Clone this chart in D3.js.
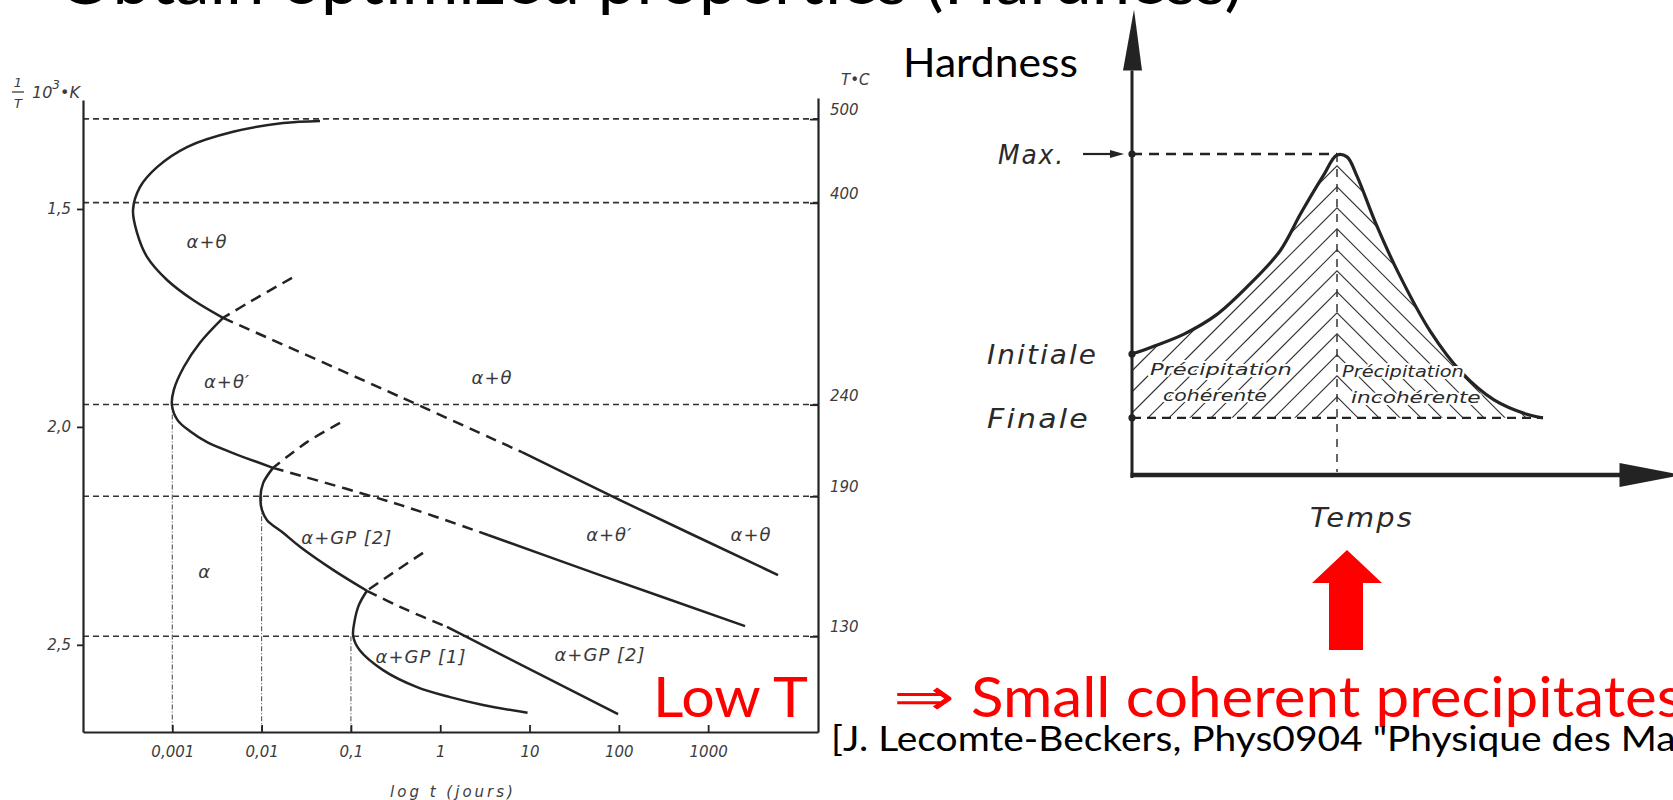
<!DOCTYPE html>
<html>
<head>
<meta charset="utf-8">
<script src="https://cdn.jsdelivr.net/npm/d3@7"></script>
<style>
  html, body { margin: 0; padding: 0; background: #fff; overflow: hidden; }
  svg { display: block; }
</style>
</head>
<body>
<svg id="slide" width="1673" height="800"></svg>
<script>
// ---------- TTT diagram (Al-Cu): time in days, 1/T in 10^-3 K^-1 ----------
const isoTemps = [500, 400, 240, 190, 130];              // isotherms, °C
const invTTicks = [1.5, 2.0, 2.5];
const timeTicks = [0.001, 0.01, 0.1, 1, 10, 100, 1000];
const timeTickLabels = ["0,001", "0,01", "0,1", "1", "10", "100", "1000"];
const noseTimes = [0.001, 0.01, 0.1];                    // dotted guides to the noses
const noseTemps = [240, 190, 130];

// α+θ boundary
const thetaUpper = [[0.0451,1.298],[0.0174,1.303],[0.00479,1.323],[0.00146,1.358],[0.000675,1.404],
  [0.000434,1.450],[0.000363,1.502],[0.000403,1.555],[0.000521,1.610],[0.000873,1.663],[0.00171,1.709],[0.0037,1.750]];
const thetaMid = [[0.0037,1.750],[0.355,1.931],[8.24,2.058]];
const thetaLow = [[8.24,2.058],[103,2.168],[6067,2.340]];
// α+θ' boundary
const thetaPrimeTop = [[0.0219,1.658],[0.00741,1.713],[0.0037,1.750]];
const thetaPrimeNose = [[0.0037,1.750],[0.00204,1.807],[0.00135,1.862],[0.00104,1.915],[0.00099,1.950],
  [0.00115,1.985],[0.00158,2.010],[0.00245,2.035],[0.00479,2.060],[0.0134,2.094]];
const thetaPrimeMid = [[0.0134,2.094],[0.355,2.179],[3.43,2.248]];
const thetaPrimeLow = [[3.43,2.248],[61.6,2.340],[2590,2.457]];
// α+GP[2] boundary
const gp2Top = [[0.0755,1.991],[0.0322,2.035],[0.0134,2.094]];
const gp2Nose = [[0.0134,2.094],[0.0104,2.129],[0.0097,2.162],[0.0101,2.191],[0.0115,2.214],
  [0.0174,2.243],[0.0269,2.275],[0.0631,2.328],[0.151,2.376]];
const gp2Mid = [[0.151,2.376],[0.355,2.413],[1.19,2.459]];
const gp2Low = [[1.19,2.459],[98,2.659]];
// α+GP[1] boundary
const gp1Top = [[0.641,2.289],[0.296,2.335],[0.151,2.376]];
const gp1Nose = [[0.151,2.376],[0.122,2.410],[0.110,2.445],[0.106,2.480],[0.125,2.512],
  [0.229,2.558],[0.55,2.597],[1.29,2.620],[3.01,2.638],[9.5,2.656]];

const regionNames = ["α+θ", "α+θ′", "α+θ", "α+GP [2]", "α", "α+GP [1]", "α+θ′", "α+θ", "α+GP [2]"];
const regionTimes = [0.00245, 0.0041, 3.8, 0.090, 0.0023, 0.61, 78, 3020, 61.5];
const regionInvT  = [1.576, 1.897, 1.888, 2.255, 2.333, 2.528, 2.248, 2.248, 2.523];

// ---------- Hardness vs ageing time (arbitrary units) ----------
const hardTime  = [0, 4.0, 10.4, 16.8, 23.2, 29.6, 33.8, 38.2, 41.0, 43.0, 45.0, 48.8, 53.2, 59.6, 66.0, 72.4, 78.8, 82.2];
const hardValue = [37.7, 39.9, 43.9, 49.8, 58.9, 69.8, 81.6, 93.1, 99.7, 99.1, 93.1, 78.2, 63.2, 44.9, 31.8, 23.4, 19.0, 17.8];
const hardLevels = ["Max.", "Initiale", "Finale"];
const hardLevelValues = [100, 37.7, 17.8];
const peakTime = 41;

const svg = d3.select("#slide");
const INK = "#232323";
const SCAN_FONT = "'DejaVu Sans', 'Liberation Sans', sans-serif";
const SLIDE_FONT = "Lato, 'Open Sans', sans-serif";

// text helper: squeezes a string horizontally so that `prefix` (or the whole string) spans `width` px
function fitText(parent, str, x, y, size, family, width, fill, attrs, prefix) {
  const apply = sel => {
    sel.attr("font-family", family).attr("font-size", size);
    Object.entries(attrs || {}).forEach(([k, v]) => sel.attr(k, v));
    return sel;
  };
  const probe = apply(parent.append("text")).text(prefix || str);
  const w = probe.node().getBBox().width;
  probe.remove();
  const k = width / w;
  return apply(parent.append("text"))
    .attr("fill", fill)
    .attr("transform", `translate(${x},${y}) scale(${k},1)`)
    .text(str);
}

// ---------- slide title (runs off the top edge) ----------
fitText(svg, "Obtain optimized properties (Hardness)", 58, 4, 64, SLIDE_FONT, 1185, "#000");

// ================= left: TTT diagram =================
const x = d3.scaleLog().domain([1e-4, Math.pow(10, 4.23)]).range([83, 818]);
const y = d3.scaleLinear().domain([1.25, 2.70]).range([100, 732]);
const invT = T => 1000 / (T + 273.15);

const gL = svg.append("g");

// isotherms
gL.append("g").selectAll("line").data(isoTemps).join("line")
  .attr("x1", x.range()[0]).attr("x2", x.range()[1])
  .attr("y1", d => y(invT(d))).attr("y2", d => y(invT(d)))
  .attr("stroke", "#333").attr("stroke-width", 1.6).attr("stroke-dasharray", "6,4");

// dotted guides from the noses down to the time axis
gL.append("g").selectAll("line").data(noseTimes).join("line")
  .attr("x1", d => x(d)).attr("x2", d => x(d))
  .attr("y1", (d, i) => y(invT(noseTemps[i]))).attr("y2", y.range()[1])
  .attr("stroke", "#555").attr("stroke-width", 1.1).attr("stroke-dasharray", "5,2,1,2");

function styleAxis(g) {
  g.attr("font-family", null).attr("font-size", null);
  g.select(".domain").attr("stroke", INK).attr("stroke-width", 2.2);
  g.selectAll(".tick line").attr("stroke", INK).attr("stroke-width", 1.8);
  g.selectAll(".tick text").attr("font-family", SCAN_FONT).attr("font-style", "italic")
    .attr("font-size", 15).attr("fill", "#3c3c3c");
}

gL.append("g").attr("transform", `translate(${x.range()[0]},0)`)
  .call(d3.axisLeft(y).tickValues(invTTicks).tickSizeInner(6).tickSizeOuter(0).tickPadding(6)
    .tickFormat(d => d3.format(".1f")(d).replace(".", ",")))
  .call(styleAxis);

gL.append("g").attr("transform", `translate(0,${y.range()[1]})`)
  .call(d3.axisBottom(x).tickValues(timeTicks).tickSizeInner(-7).tickSizeOuter(0).tickPadding(14)
    .tickFormat((d, i) => timeTickLabels[i]))
  .call(styleAxis);

gL.append("g").attr("transform", `translate(${x.range()[1]},0)`)
  .call(d3.axisRight(y.copy().domain([1.245, 2.70]).range([98, 732]))
    .tickValues(isoTemps.map(invT)).tickSizeInner(-8).tickSizeOuter(0).tickPadding(12)
    .tickFormat((d, i) => isoTemps[i]))
  .call(styleAxis)
  .call(g => g.selectAll(".tick text").attr("dy", "-0.3em"));

// axis titles
const yTitle = gL.append("g").attr("font-family", SCAN_FONT).attr("font-style", "italic").attr("fill", "#3c3c3c");
yTitle.append("text").attr("x", 18).attr("y", 87).attr("text-anchor", "middle").attr("font-size", 13).text("1");
yTitle.append("line").attr("x1", 12).attr("x2", 24).attr("y1", 92).attr("y2", 92).attr("stroke", "#3c3c3c").attr("stroke-width", 1.3);
yTitle.append("text").attr("x", 18).attr("y", 108).attr("text-anchor", "middle").attr("font-size", 13).text("T");
const kt = yTitle.append("text").attr("x", 32).attr("y", 98).attr("font-size", 16);
kt.append("tspan").text("10");
kt.append("tspan").attr("dy", -9).attr("font-size", 12).text("3");
kt.append("tspan").attr("dy", 9).text("•K");
yTitle.append("text").attr("x", 841).attr("y", 85).attr("font-size", 15).text("T•C");
yTitle.append("text").attr("x", 453).attr("y", 797).attr("text-anchor", "middle")
  .attr("font-size", 15).attr("letter-spacing", 3).text("log t (jours)");

// transformation curves
const line = d3.line().x(d => x(d[0])).y(d => y(d[1])).curve(d3.curveCatmullRom.alpha(0.5));
const segments = [
  [thetaUpper, false], [thetaMid, true], [thetaLow, false],
  [thetaPrimeTop, true], [thetaPrimeNose, false], [thetaPrimeMid, true], [thetaPrimeLow, false],
  [gp2Top, true], [gp2Nose, false], [gp2Mid, true], [gp2Low, false],
  [gp1Top, true], [gp1Nose, false]
];
gL.append("g").selectAll("path").data(segments).join("path")
  .attr("d", d => line(d[0]))
  .attr("fill", "none").attr("stroke", INK).attr("stroke-width", 2.5)
  .attr("stroke-linecap", "butt")
  .attr("stroke-dasharray", d => d[1] ? "11,7" : null);

gL.append("g").selectAll("text").data(regionNames).join("text")
  .attr("x", (d, i) => x(regionTimes[i])).attr("y", (d, i) => y(regionInvT[i]) + 6)
  .attr("text-anchor", "middle").attr("font-family", SCAN_FONT).attr("font-style", "italic")
  .attr("font-size", 18).attr("letter-spacing", 1).attr("fill", "#3a3a3a")
  .text(d => d);

// ================= right: hardness curve =================
const xs = d3.scaleLinear().domain([0, 100]).range([1132, 1632]);
const ys = d3.scaleLinear().domain([0, 100]).range([475, 154]);
const hard = hardTime.map((t, i) => [t, hardValue[i]]);
const gR = svg.append("g");
const finalY = ys(hardLevelValues[2]);
const peakX = xs(peakTime);
const smooth = d3.curveCatmullRom.alpha(0.5);

// hatched area under the curve, chevrons meeting on the peak line
gR.append("clipPath").attr("id", "underCurve").append("path")
  .attr("d", d3.area().x(d => xs(d[0])).y0(finalY).y1(d => ys(d[1])).curve(smooth)(hard));
const apexes = d3.range(finalY, ys(100) - 1, -21);
gR.append("g").attr("clip-path", "url(#underCurve)")
  .attr("stroke", "#333").attr("stroke-width", 1.1)
  .selectAll("path").data(apexes).join("path")
  .attr("d", a => `M${peakX - 420},${a + 420}L${peakX},${a}L${peakX + 420},${a + 420}`)
  .attr("fill", "none");

// reference levels
gR.append("line").attr("x1", xs(0)).attr("x2", peakX).attr("y1", ys(100)).attr("y2", ys(100))
  .attr("stroke", INK).attr("stroke-width", 2.4).attr("stroke-dasharray", "10,7");
gR.append("line").attr("x1", xs(0)).attr("x2", xs(hardTime[hardTime.length - 1])).attr("y1", finalY).attr("y2", finalY)
  .attr("stroke", INK).attr("stroke-width", 2.4).attr("stroke-dasharray", "9,6");
gR.append("line").attr("x1", peakX).attr("x2", peakX).attr("y1", ys(100)).attr("y2", ys(0) - 3)
  .attr("stroke", "#333").attr("stroke-width", 1.5).attr("stroke-dasharray", "8,7");

// hardness curve
gR.append("path").attr("d", d3.line().x(d => xs(d[0])).y(d => ys(d[1])).curve(smooth)(hard))
  .attr("fill", "none").attr("stroke", INK).attr("stroke-width", 3.2);

// axes with arrow heads
gR.append("line").attr("x1", xs(0)).attr("x2", xs(0)).attr("y1", ys(0) + 3).attr("y2", ys(126))
  .attr("stroke", INK).attr("stroke-width", 3);
gR.append("path").attr("d", `M${xs(0) - 9},${ys(126)}L${xs(0) + 2},${ys(145)}L${xs(0) + 10},${ys(126)}Z`).attr("fill", INK);
gR.append("line").attr("x1", xs(0) - 1.5).attr("x2", xs(98)).attr("y1", ys(0)).attr("y2", ys(0))
  .attr("stroke", INK).attr("stroke-width", 4.5);
gR.append("path").attr("d", `M${xs(97.5)},${ys(0) - 12}L${xs(110)},${ys(0)}L${xs(97.5)},${ys(0) + 12}Z`).attr("fill", INK);

// level dots and labels
gR.selectAll("circle").data(hardLevelValues).join("circle")
  .attr("cx", xs(0)).attr("cy", d => ys(d)).attr("r", 3.6).attr("fill", INK);
const levelLeft = [998, 987, 987];
const levelWidths = [67, 111, 103];
hardLevels.forEach((name, i) => {
  fitText(gR, name, levelLeft[i], ys(hardLevelValues[i]) + 10, 27, SCAN_FONT, levelWidths[i], "#2a2a2a",
    { "font-style": "italic", "letter-spacing": 2 });
});
gR.append("line").attr("x1", 1083).attr("x2", 1114).attr("y1", ys(100)).attr("y2", ys(100))
  .attr("stroke", INK).attr("stroke-width", 2.2);
gR.append("path").attr("d", `M1110,${ys(100) - 4}L1124,${ys(100)}L1110,${ys(100) + 4}Z`).attr("fill", INK);

// region notes over the hatching
const notes = [["Précipitation", 1150, 375, 142], ["cohérente", 1163, 401, 104],
               ["Précipitation", 1342, 377, 122], ["incohérente", 1351, 403, 130]];
notes.forEach(n => {
  fitText(gR, n[0], n[1], n[2], 16, SCAN_FONT, n[3], "#2a2a2a",
    { "font-style": "italic", "stroke": "#fff", "stroke-width": 4, "paint-order": "stroke", "stroke-linejoin": "round" });
});
fitText(gR, "Temps", 1310, 527, 27, SCAN_FONT, 104, "#2a2a2a", { "font-style": "italic", "letter-spacing": 2 });
fitText(gR, "Hardness", 903, 77, 40, SLIDE_FONT, 175, "#000");

// ---------- red call-outs ----------
const RED = "#ff0000";
svg.append("path").attr("fill", RED)
  .attr("d", "M1347,550L1382,583L1363,583L1363,650L1329,650L1329,583L1312,583Z");
fitText(svg, "Low T", 653, 717, 56, SLIDE_FONT, 155, RED);
fitText(svg, "⇒", 893, 715, 52, "'DejaVu Sans', sans-serif", 62, RED);
fitText(svg, "Small coherent precipitates", 971, 717, 56, SLIDE_FONT, 712, RED);

// ---------- source ----------
fitText(svg, "[J. Lecomte-Beckers, Phys0904 \"Physique des Matériaux\"]", 831, 751, 34, SLIDE_FONT, 845, "#000",
  {}, "[J. Lecomte-Beckers, Phys0904 \"Physique des Ma");
</script>
</body>
</html>
